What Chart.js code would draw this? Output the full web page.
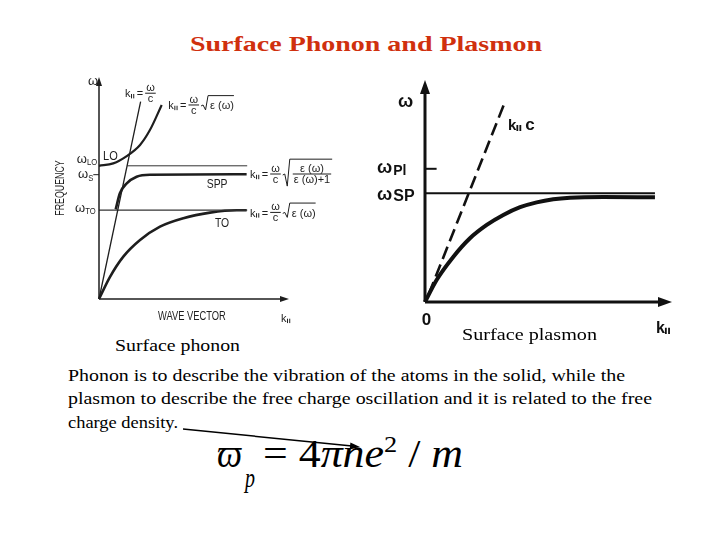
<!DOCTYPE html>
<html><head><meta charset="utf-8">
<script src="https://cdn.jsdelivr.net/npm/chart.js@4.4.1/dist/chart.umd.min.js"></script>
<style>
html,body{margin:0;padding:0;background:#fff;}
body{width:720px;height:540px;position:relative;overflow:hidden;font-family:"Liberation Serif","Times New Roman",serif;color:#000;}
.t{position:absolute;white-space:nowrap;line-height:1;transform-origin:0 0;}
.fm{font-family:"Liberation Serif","DejaVu Serif",serif;}
canvas{position:absolute;}
sup{font-size:24px;vertical-align:15px;line-height:0;font-style:normal;}
</style></head><body>
<div class="t" style="left:190px;top:34.4px;font-size:21px;font-weight:bold;color:#d0300e" data-w="352">Surface Phonon and Plasmon</div>

<canvas id="leftChart" width="300" height="260" style="left:50px;top:70px"></canvas>
<canvas id="rightChart" width="340" height="280" style="left:360px;top:70px"></canvas>

<div class="t" style="left:115px;top:337.3px;font-size:17.5px" data-w="125">Surface phonon</div>
<div class="t" style="left:462px;top:326px;font-size:17.5px" data-w="135">Surface plasmon</div>

<div class="t" style="left:67.7px;top:366.8px;font-size:17.5px" data-w="557">Phonon is to describe the vibration of the atoms in the solid, while the</div>
<div class="t" style="left:67.7px;top:390.3px;font-size:17.5px" data-w="584">plasmon to describe the free charge oscillation and it is related to the free</div>
<div class="t" style="left:67.7px;top:413.8px;font-size:17.5px" data-w="110">charge density.</div>

<div class="t fm" style="left:217px;top:433.5px;font-size:40px;font-style:italic" data-w="25">ϖ</div>
<div class="t fm" style="left:245px;top:465.4px;font-size:27px;font-style:italic" data-w="10">p</div>
<div class="t fm" style="left:263px;top:433.5px;font-size:40px" data-w="200">= 4<i class="fm">πne</i><sup class="fm">2</sup> / <i class="fm">m</i></div>

<svg style="position:absolute;left:0;top:0" width="720" height="540">
  <line x1="183" y1="429" x2="352" y2="446" stroke="#000" stroke-width="1.5"/>
  <polygon points="360,447 350.4,442.5 349.7,449.5" fill="#000"/>
</svg>

<script>
// ================= DATA =================
// Left panel: surface phonon dispersion, arbitrary units (k: 0-10, ω: 0-10)
const phononLevelNames = ['LO', 'S', 'TO'];
const phononLevels = [6.0, 5.6, 4.0];                 // ωLO, ωS, ωTO
const lightK = [0, 2.19];                              // k = ω/c
const lightW = [0, 8.89];
const loK = [0, 0.75, 1.46, 2.16, 2.68, 3.30];         // LO branch
const loW = [6.0, 6.11, 6.44, 6.94, 7.61, 8.74];
const sppK = [0.88, 1.10, 1.46, 1.98, 2.68, 7.77];     // surface phonon polariton
const sppW = [4.04, 4.76, 5.21, 5.51, 5.60, 5.62];
const toK = [0, 0.58, 1.28, 2.16, 3.21, 4.44, 5.84, 7.25, 7.77]; // TO branch
const toW = [0, 1.00, 1.91, 2.66, 3.26, 3.64, 3.89, 4.00, 4.00];
const loLevelK = [1.48, 7.80];
const toLevelK = [0, 7.80];
const sTickK = [-0.3, 0];

// Right panel: surface plasmon dispersion, arbitrary units
const plasmonLevelNames = ['Pl', 'SP'];
const plasmonLevels = [6.0, 4.9];                      // ωPl, ωSP
const spK = [0, 0.47, 1.15, 1.82, 2.50, 3.17, 3.85, 4.52, 5.19, 5.87, 7.22, 9.31];
const spW = [0, 0.99, 2.04, 2.87, 3.47, 3.92, 4.27, 4.49, 4.63, 4.70, 4.73, 4.72];
const photonK = [0.15, 3.24];                          // k∥ c (dashed)
const photonW = [0.35, 9.02];
const spLevelK = [0, 9.31];
const plTickK = [0, 0.47];

// ================= helpers =================
const pair = (xs, ys) => xs.map((x, i) => ({x, y: ys[i]}));
const flat = (xs, v) => xs.map(x => ({x, y: v}));
const sans = '"Liberation Sans", "DejaVu Sans", Arial, sans-serif';
function setF(ctx, s, b){ ctx.font = (b ? 'bold ' : '') + s + 'px ' + sans; }
function txt(ctx, s, x, y, sx){ sx = sx || 1; ctx.save(); ctx.translate(x, y); ctx.scale(sx, 1); ctx.fillText(s, 0, 0); ctx.restore(); return ctx.measureText(s).width * sx; }
function arrowHead(ctx, tx, ty, dx, dy, L, W){
  ctx.beginPath(); ctx.moveTo(tx, ty);
  ctx.lineTo(tx - dx*L - dy*W, ty - dy*L + dx*W);
  ctx.lineTo(tx - dx*L + dy*W, ty - dy*L - dx*W);
  ctx.closePath(); ctx.fill();
}
function kpar(ctx, x, yb, s, b){
  setF(ctx, s, b); ctx.fillText('k', x, yb);
  const w = ctx.measureText('k').width;
  ctx.lineWidth = b ? 1.8 : 1; const x1 = x + w + 1, h = s * 0.4, g = s * 0.2;
  ctx.beginPath(); ctx.moveTo(x1, yb + 1); ctx.lineTo(x1, yb + 1 - h);
  ctx.moveTo(x1 + g, yb + 1); ctx.lineTo(x1 + g, yb + 1 - h); ctx.stroke();
  return w + g + 3;
}
function frac(ctx, num, den, x, ym, s){
  setF(ctx, s);
  const W = Math.max(ctx.measureText(num).width, ctx.measureText(den).width) + 2;
  ctx.textAlign = 'center';
  ctx.fillText(num, x + W/2, ym - 2); ctx.fillText(den, x + W/2, ym + s*0.82);
  ctx.textAlign = 'left';
  ctx.lineWidth = 1; ctx.beginPath(); ctx.moveTo(x, ym); ctx.lineTo(x + W, ym); ctx.stroke();
  return W;
}
function root(ctx, x, ym, top, bottom, cw){
  ctx.lineWidth = 1; ctx.beginPath();
  ctx.moveTo(x, ym + 1); ctx.lineTo(x + 2, ym); ctx.lineTo(x + 4.5, bottom);
  ctx.lineTo(x + 7, top); ctx.lineTo(x + 9 + cw, top); ctx.stroke();
  return 8;
}
function kEqWc(ctx, x, ym, s){
  let cx = x; const yb = ym + s*0.38;
  cx += kpar(ctx, cx, yb, s); setF(ctx, s);
  ctx.fillText('=', cx + 1, yb); cx += ctx.measureText('=').width + 3;
  cx += frac(ctx, 'ω', 'c', cx, ym, s);
  return cx - x;
}
function sqrtEps(ctx, x, ym, s){
  setF(ctx, s); const t = 'ε (ω)'; const w = ctx.measureText(t).width;
  const o = root(ctx, x, ym, ym - s*0.85, ym + s*0.45, w);
  setF(ctx, s); ctx.fillText(t, x + o + 1, ym + s*0.38);
  return o + w + 2;
}
function sqrtRatio(ctx, x, ym, s){
  setF(ctx, s); const n = 'ε (ω)', d = 'ε (ω)+1';
  const w = Math.max(ctx.measureText(n).width, ctx.measureText(d).width) + 2;
  const o = root(ctx, x, ym, ym - s*1.35, ym + s*1.1, w + 2);
  frac(ctx, n, d, x + o + 2, ym, s);
  return o + w + 4;
}
function lineDs(data, w, color, extra){
  return Object.assign({data, showLine: true, borderColor: color, borderWidth: w,
    pointRadius: 0, pointHoverRadius: 0, tension: 0, clip: false, fill: false}, extra || {});
}
function baseOptions(pad){
  return {
    responsive: false, animation: false, events: [],
    layout: {padding: pad},
    plugins: {legend: {display: false}, tooltip: {enabled: false}},
    scales: {
      x: {type: 'linear', min: 0, max: 10, display: false},
      y: {type: 'linear', min: 0, max: 10, display: false}
    }
  };
}

// ================= left chart: surface phonon =================
const inkL = '#1e1e1e';
const mono = {cubicInterpolationMode: 'monotone'};
new Chart(document.getElementById('leftChart'), {
  type: 'scatter',
  data: {datasets: [
    lineDs([{x: 0, y: 0}, {x: 9.6, y: 0}], 1.5, inkL),
    lineDs([{x: 0, y: 0}, {x: 0, y: 9.6}], 1.5, inkL),
    lineDs(pair(lightK, lightW), 1.3, inkL),
    lineDs(flat(loLevelK, phononLevels[0]), 1, '#333'),
    lineDs(flat(toLevelK, phononLevels[2]), 1.2, '#333'),
    lineDs(flat(sTickK, phononLevels[1]), 1, inkL),
    lineDs(pair(loK, loW), 2.2, inkL, mono),
    lineDs(pair(sppK, sppW), 2.6, inkL, mono),
    lineDs(pair(toK, toW), 2.6, inkL, mono)
  ]},
  options: baseOptions({left: 49, right: 61, top: 7, bottom: 31}),
  plugins: [{
    id: 'leftDecor',
    afterDatasetsDraw(chart){
      const ctx = chart.ctx, xs = chart.scales.x, ys = chart.scales.y;
      const X = v => xs.getPixelForValue(v), Y = v => ys.getPixelForValue(v);
      ctx.save(); ctx.fillStyle = inkL; ctx.strokeStyle = inkL; ctx.textBaseline = 'alphabetic';
      arrowHead(ctx, X(10), Y(0), 1, 0, 9, 3);
      arrowHead(ctx, X(0), Y(10), 0, -1, 9, 3);
      // axis letters
      setF(ctx, 13); txt(ctx, 'ω', X(-0.58), Y(9.64));
      let w;
      setF(ctx, 13); w = txt(ctx, 'ω', X(-1.17), Y(6.13));
      setF(ctx, 9); txt(ctx, phononLevelNames[0], X(-1.17) + w, Y(6.13) + 2, 0.85);
      setF(ctx, 13); w = txt(ctx, 'ω', X(-1.1), Y(5.45));
      setF(ctx, 9); txt(ctx, phononLevelNames[1], X(-1.1) + w, Y(5.45) + 3, 0.85);
      setF(ctx, 13); w = txt(ctx, 'ω', X(-1.26), Y(3.92));
      setF(ctx, 9); txt(ctx, phononLevelNames[2], X(-1.26) + w, Y(3.92) + 2, 0.85);
      // branch names
      setF(ctx, 13); txt(ctx, 'LO', X(0.21), Y(6.26), 0.85);
      txt(ctx, 'SPP', X(5.67), Y(5.0), 0.8);
      txt(ctx, 'TO', X(6.1), Y(3.24), 0.8);
      // axis titles
      setF(ctx, 13); txt(ctx, 'WAVE VECTOR', X(3.1), Y(-0.95), 0.72);
      kpar(ctx, X(9.58), Y(-1.04), 11);
      ctx.save(); ctx.translate(X(-1.82), Y(5.0)); ctx.rotate(-Math.PI/2);
      setF(ctx, 13); ctx.textAlign = 'center'; ctx.scale(0.68, 1); ctx.fillText('FREQUENCY', 0, 0); ctx.restore();
      // formulas
      kEqWc(ctx, X(1.37), Y(9.27), 11);
      let fx = X(3.65); fx += kEqWc(ctx, fx, Y(8.74), 11) + 2; sqrtEps(ctx, fx, Y(8.74), 11);
      fx = X(7.95); fx += kEqWc(ctx, fx, Y(5.63), 11) + 2; sqrtRatio(ctx, fx, Y(5.63), 11);
      fx = X(7.95); fx += kEqWc(ctx, fx, Y(3.9), 11) + 2; sqrtEps(ctx, fx, Y(3.9), 11);
      ctx.restore();
    }
  }]
});

// ================= right chart: surface plasmon =================
const inkR = '#111';
new Chart(document.getElementById('rightChart'), {
  type: 'scatter',
  data: {datasets: [
    lineDs([{x: 0, y: 0}, {x: 9.5, y: 0}], 3, inkR),
    lineDs([{x: 0, y: 0}, {x: 0, y: 9.4}], 3, inkR),
    lineDs(flat(plTickK, plasmonLevels[0]), 2, inkR),
    lineDs(flat(spLevelK, plasmonLevels[1]), 2, inkR),
    lineDs(pair(photonK, photonW), 2.6, inkR, {borderDash: [13, 6]}),
    lineDs(pair(spK, spW), 4, inkR, mono)
  ]},
  options: baseOptions({left: 65, right: 28, top: 10, bottom: 48}),
  plugins: [{
    id: 'rightDecor',
    afterDatasetsDraw(chart){
      const ctx = chart.ctx, xs = chart.scales.x, ys = chart.scales.y;
      const X = v => xs.getPixelForValue(v), Y = v => ys.getPixelForValue(v);
      ctx.save(); ctx.fillStyle = inkR; ctx.strokeStyle = inkR; ctx.textBaseline = 'alphabetic';
      arrowHead(ctx, X(10), Y(0), 1, 0, 14, 5);
      arrowHead(ctx, X(0), Y(10), 0, -1, 14, 5);
      setF(ctx, 18, true); txt(ctx, 'ω', X(-1.09), Y(8.78));
      let w;
      setF(ctx, 18, true); w = txt(ctx, 'ω', X(-1.94), Y(5.8));
      setF(ctx, 14, true); txt(ctx, plasmonLevelNames[0], X(-1.94) + w + 1, Y(5.8) + 1.5);
      setF(ctx, 18, true); w = txt(ctx, 'ω', X(-1.94), Y(4.59));
      setF(ctx, 16, true); txt(ctx, plasmonLevelNames[1], X(-1.94) + w + 1, Y(4.59) + 0.5);
      setF(ctx, 17, true); ctx.textAlign = 'center'; ctx.fillText('0', X(0.06), Y(-1.04)); ctx.textAlign = 'left';
      kpar(ctx, X(9.35), Y(-1.40), 16, true);
      const kw = kpar(ctx, X(3.36), Y(7.75), 15, true);
      setF(ctx, 17, true); ctx.fillText('c', X(3.36) + kw + 3, Y(7.75));
      ctx.restore();
    }
  }]
});

// fit html texts to the measured widths of the reference
document.querySelectorAll('[data-w]').forEach(el => {
  const w = el.getBoundingClientRect().width;
  if (w > 0) el.style.transform = 'scaleX(' + (+el.dataset.w / w) + ')';
});
</script>
</body></html>
